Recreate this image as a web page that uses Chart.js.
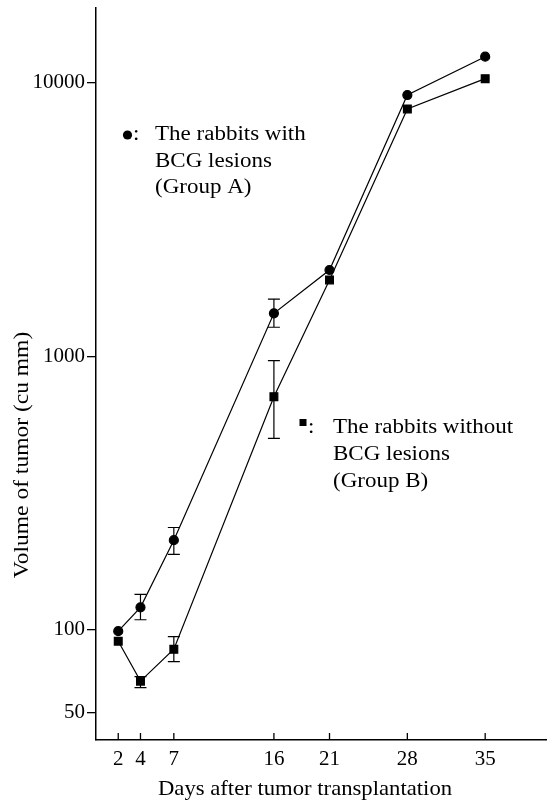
<!DOCTYPE html>
<html>
<head>
<meta charset="utf-8">
<script src="https://cdn.jsdelivr.net/npm/chart.js@4"></script>
<style>
  html, body { margin: 0; padding: 0; background: #fff; }
  canvas { display: block; }
</style>
</head>
<body>
<canvas id="tumorChart" width="547" height="800"></canvas>
<script>
// Days after transplantation
const days = [2, 4, 7, 16, 21, 28, 35];

// Group A: rabbits with BCG lesions (cu mm)
const groupA = [99, 121, 213, 1438, 2071, 9036, 12480];
const groupALow = [null, 109, 189, 1279, null, null, null];
const groupAHigh = [null, 135, 237, 1622, null, null, null];

// Group B: rabbits without BCG lesions (cu mm)
const groupB = [91, 65, 85, 713, 1905, 8035, 10370];
const groupBLow = [null, 61.5, 76.6, 502, null, null, null];
const groupBHigh = [null, 67.5, 94.5, 965, null, null, null];

const xTicks = [2, 4, 7, 16, 21, 28, 35];
const yTicks = [50, 100, 1000, 10000];

const FONT = "'Liberation Serif', 'Times New Roman', serif";

function toPoints(values) {
  return days.map((d, i) => ({ x: d, y: values[i] }));
}

// text with a slight horizontal stretch, like the scanned typeface
function drawText(ctx, text, x, y, size, stretch, align) {
  ctx.save();
  ctx.font = size + "px " + FONT;
  ctx.fillStyle = "#000";
  ctx.textBaseline = "alphabetic";
  ctx.textAlign = align || "left";
  ctx.translate(x, y);
  ctx.scale(stretch, 1);
  ctx.fillText(text, 0, 0);
  ctx.restore();
}

const extras = {
  id: "extras",
  afterDatasetsDraw(chart) {
    const { ctx, scales } = chart;
    const xs = scales.x;
    const ys = scales.y;
    ctx.save();
    ctx.strokeStyle = "#000";
    ctx.lineWidth = 1.2;

    // error bars
    [[groupALow, groupAHigh], [groupBLow, groupBHigh]].forEach(([lo, hi]) => {
      days.forEach((d, i) => {
        if (lo[i] == null) return;
        const px = xs.getPixelForValue(d);
        const y1 = ys.getPixelForValue(lo[i]);
        const y2 = ys.getPixelForValue(hi[i]);
        ctx.beginPath();
        ctx.moveTo(px, y1); ctx.lineTo(px, y2);
        ctx.moveTo(px - 6, y1); ctx.lineTo(px + 6, y1);
        ctx.moveTo(px - 6, y2); ctx.lineTo(px + 6, y2);
        ctx.stroke();
      });
    });

    // x tick marks point up into the plot
    ctx.lineWidth = 1.3;
    xTicks.forEach((v) => {
      const px = xs.getPixelForValue(v);
      ctx.beginPath();
      ctx.moveTo(px, xs.top);
      ctx.lineTo(px, xs.top - 7);
      ctx.stroke();
    });
    ctx.restore();
  },
  afterDraw(chart) {
    const { ctx } = chart;

    // axis titles
    drawText(ctx, "Days after tumor transplantation", 305, 795, 21, 1.08, "center");
    ctx.save();
    ctx.translate(28, 455);
    ctx.rotate(-Math.PI / 2);
    drawText(ctx, "Volume of tumor (cu mm)", 0, 0, 21, 1.12, "center");
    ctx.restore();

    // legend A
    ctx.save();
    ctx.fillStyle = "#000";
    ctx.beginPath();
    ctx.arc(127.5, 135, 4.6, 0, Math.PI * 2);
    ctx.fill();
    ctx.restore();
    drawText(ctx, ":", 133, 140, 20, 1.15);
    drawText(ctx, "The rabbits with", 155, 140, 20, 1.15);
    drawText(ctx, "BCG lesions", 155, 166.5, 20, 1.15);
    drawText(ctx, "(Group A)", 155, 193, 20, 1.15);

    // legend B
    ctx.save();
    ctx.fillStyle = "#000";
    ctx.fillRect(299.5, 419, 7, 7);
    ctx.restore();
    drawText(ctx, ":", 308, 433, 20, 1.15);
    drawText(ctx, "The rabbits without", 333, 433, 20, 1.15);
    drawText(ctx, "BCG lesions", 333, 460, 20, 1.15);
    drawText(ctx, "(Group B)", 333, 486.5, 20, 1.15);
  },
};

new Chart(document.getElementById("tumorChart"), {
  type: "line",
  data: {
    datasets: [
      {
        label: "Group A",
        data: toPoints(groupA),
        borderColor: "#000",
        backgroundColor: "#000",
        borderWidth: 1.2,
        tension: 0,
        pointStyle: "circle",
        pointRadius: 4.5,
      },
      {
        label: "Group B",
        data: toPoints(groupB),
        borderColor: "#000",
        backgroundColor: "#000",
        borderWidth: 1.2,
        tension: 0,
        pointStyle: "rect",
        pointRadius: 5.5,
      },
    ],
  },
  options: {
    responsive: false,
    animation: false,
    devicePixelRatio: 1,
    layout: { autoPadding: false, padding: { top: 8, right: 0, bottom: 0, left: 0 } },
    plugins: {
      legend: { display: false },
      tooltip: { enabled: false },
    },
    scales: {
      x: {
        type: "linear",
        min: 0,
        max: 40.56,
        afterBuildTicks: (s) => { s.ticks = xTicks.map((v) => ({ value: v })); },
        afterFit: (s) => { s.height = 60; s.paddingLeft = 0; s.paddingRight = 0; },
        ticks: {
          color: "#000",
          font: { family: FONT, size: 21 },
          padding: 7,
          maxRotation: 0,
          autoSkip: false,
        },
        grid: { drawOnChartArea: false, drawTicks: false },
        border: { color: "#000", width: 1.5 },
      },
      y: {
        type: "logarithmic",
        min: 39.6,
        max: 18800,
        afterBuildTicks: (s) => { s.ticks = yTicks.map((v) => ({ value: v })); },
        afterFit: (s) => { s.width = 96; s.paddingTop = 0; s.paddingBottom = 0; },
        ticks: {
          color: "#000",
          font: { family: FONT, size: 21 },
          padding: 2,
          callback: (v) => String(v),
        },
        grid: { drawOnChartArea: false, drawTicks: true, tickLength: 9, color: "#000", lineWidth: 1.3 },
        border: { color: "#000", width: 1.5 },
      },
    },
  },
  plugins: [extras],
});
</script>
</body>
</html>
